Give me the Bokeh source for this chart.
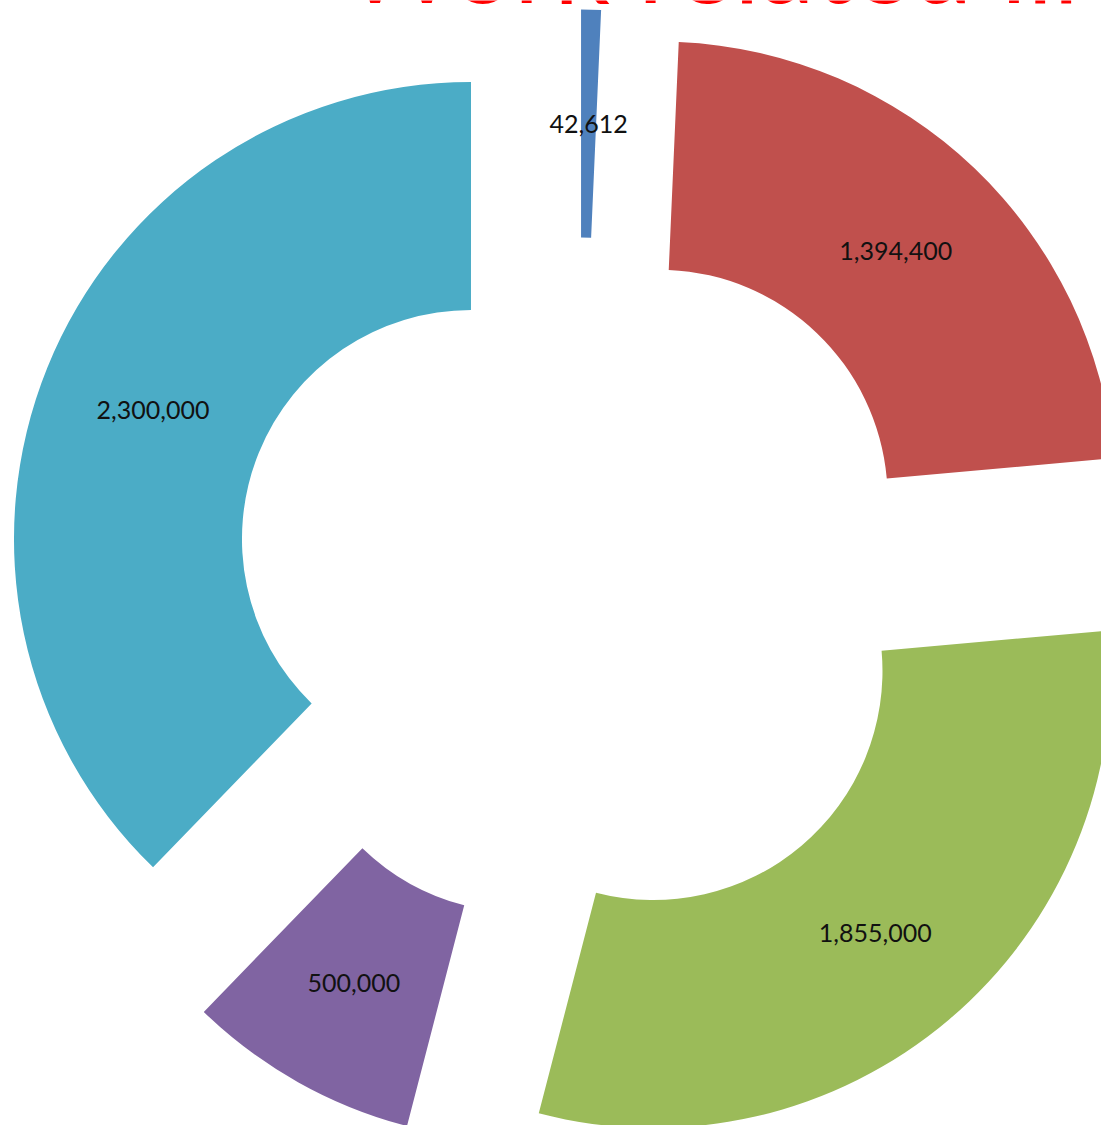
import math
from bokeh.plotting import figure
from bokeh.models import ColumnDataSource, Range1d
from bokeh.core.properties import value
from bokeh.embed import file_html
from bokeh.resources import INLINE

# ---- data ----
labels = ["42,612", "1,394,400", "1,855,000", "500,000", "2,300,000"]
values = [42612, 1394400, 1855000, 500000, 2300000]
colors = ["#4F81BD", "#C0504D", "#9BBB59", "#8064A2", "#4BACC6"]
title_text = "Work related ill"

# ---- layout (image pixel units; y is negated image-y) ----
W, H = 1101, 1125
CX, CY = 578.0, -582.0
R_OUT, R_IN = 457.0, 229.0
EXPLODE = 116.0

total = float(sum(values))
xs, ys, starts, ends, lx, ly = [], [], [], [], [], []
acc = 0.0
for v in values:
    t1 = acc / total * 2 * math.pi          # clockwise from 12 o'clock
    acc += v
    t2 = acc / total * 2 * math.pi
    tm = (t1 + t2) / 2
    dx, dy = math.sin(tm), math.cos(tm)
    cx, cy = CX + EXPLODE * dx, CY + EXPLODE * dy
    xs.append(cx); ys.append(cy)
    starts.append(math.pi / 2 - t2)
    ends.append(math.pi / 2 - t1)
    rm = (R_OUT + R_IN) / 2
    lx.append(cx + rm * dx); ly.append(cy + rm * dy)

src = ColumnDataSource(dict(x=xs, y=ys, start=starts, end=ends, color=colors,
                            lx=lx, ly=ly, label=labels))

p = figure(width=W, height=H, output_backend="svg", toolbar_location=None,
           x_range=Range1d(0, W), y_range=Range1d(-H, 0),
           min_border=0, background_fill_color="white", border_fill_color="white")
p.axis.visible = False
p.grid.visible = False
p.outline_line_color = None

p.annular_wedge(x="x", y="y", inner_radius=R_IN, outer_radius=R_OUT,
                start_angle="start", end_angle="end", direction="anticlock",
                fill_color="color", line_color=None, source=src)

p.text(x="lx", y="ly", text="label", source=src, text_align="center",
       text_baseline="middle", text_font=value("Lato"), text_font_size="25px",
       text_color="#111111")

p.text(x=[711], y=[-25], text=[title_text], text_align="center",
       text_baseline="bottom", text_font=value("Lato"),
       text_font_size="110px", text_color="#FF0000")

open("out.html", "w").write(file_html(p, INLINE))
